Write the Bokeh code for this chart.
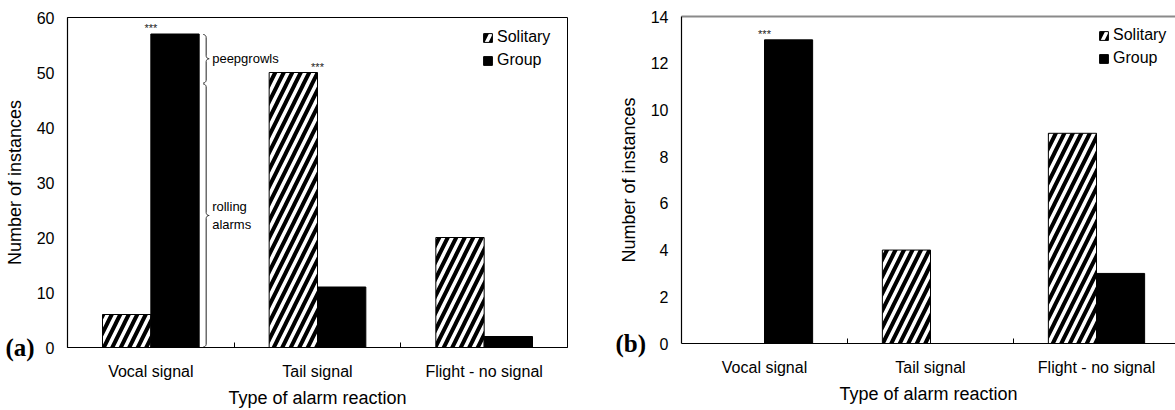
import numpy as np
from bokeh.plotting import figure
from bokeh.layouts import row
from bokeh.models import FixedTicker, LinearAxis, Legend, LegendItem, Range1d, ColumnDataSource
from bokeh.core.properties import value
from bokeh.embed import file_html
from bokeh.resources import INLINE

# ---- data ----
categories = ["Vocal signal", "Tail signal", "Flight - no signal"]

solitary_a = [6, 50, 20]
group_a = [57, 11, 2]
signif_a = ["***", "***", ""]
y_ticks_a = [0, 10, 20, 30, 40, 50, 60]

solitary_b = [0, 4, 9]
group_b = [13, 0, 3]
signif_b = ["***", "", ""]
y_ticks_b = [0, 2, 4, 6, 8, 10, 12, 14]

# composition of the group vocal signals in panel (a)
vocal_call_types = ["peepgrowls", "rolling\nalarms"]
vocal_call_counts = [9, 48]

SANS = "Liberation Sans"
BAR_W = 0.29
H = 410


def make_panel(letter, sol, grp, signif, yticks, width, box, legend_xy, letter_x):
    """box = (left, right, top, bottom) pixel edges of the data area on the canvas"""
    left, right, top, bottom = box
    ncat = len(categories)
    ymax = yticks[-1]
    ppx = 166.0 if right is None else (right - left) / ncat
    ppy = (bottom - top) / ymax
    x_hi = (width - left) / ppx
    p = figure(width=width, height=H, output_backend="svg", toolbar_location=None,
               x_range=Range1d(-left / ppx, x_hi),
               y_range=Range1d(-(H - bottom) / ppy, ymax + top / ppy),
               min_border=0, x_axis_location=None, y_axis_location=None)
    p.grid.visible = False
    p.outline_line_color = None

    centers = np.arange(ncat) + 0.5
    src = ColumnDataSource(dict(xs=centers - BAR_W / 2, xg=centers + BAR_W / 2,
                                sol=sol, grp=grp))
    r_sol = p.vbar(x="xs", top="sol", width=BAR_W, source=src, fill_color="white",
                   line_color="black", line_width=1, hatch_pattern="/",
                   hatch_color="black", hatch_scale=17, hatch_weight=4)
    r_grp = p.vbar(x="xg", top="grp", width=BAR_W, source=src, fill_color="black",
                   line_color="black", line_width=1)

    # significance stars over each category
    star_y = [max(a, b) for a, b in zip(sol, grp)]
    p.text(x=list(centers), y=star_y, text=signif, text_font=value(SANS),
           text_font_size="11px", text_align="center", text_baseline="bottom",
           text_color="#222222")

    # x axis: labels at category centres, small ticks at category borders
    xa = LinearAxis(fixed_location=0, bounds=(0, ncat))
    xa.ticker = FixedTicker(ticks=list(centers), minor_ticks=list(range(1, ncat)))
    xa.major_label_overrides = {float(c): name for c, name in zip(centers, categories)}
    xa.major_tick_in = 0
    xa.major_tick_out = 0
    xa.minor_tick_in = 5
    xa.minor_tick_out = 0
    xa.axis_label = "Type of alarm reaction"
    xa.major_label_standoff = 15
    xa.axis_label_standoff = 5

    ya = LinearAxis(fixed_location=0, bounds=(0, ymax))
    ya.ticker = FixedTicker(ticks=yticks)
    ya.major_tick_in = 0
    ya.major_tick_out = 0
    ya.minor_tick_in = 0
    ya.minor_tick_out = 0
    ya.axis_label = "Number of instances"
    ya.major_label_standoff = 13
    ya.axis_label_standoff = 9

    for ax in (xa, ya):
        ax.axis_line_color = "black"
        ax.axis_line_width = 1.2
        ax.major_label_text_font = SANS
        ax.major_label_text_font_size = "16px"
        ax.major_label_text_color = "black"
        ax.axis_label_text_font = SANS
        ax.axis_label_text_font_size = "18px"
        ax.axis_label_text_font_style = "normal"
        ax.axis_label_text_color = "black"
    p.add_layout(xa, "below")
    p.add_layout(ya, "left")

    # panel letter, level with the zero tick
    p.text(x=[(letter_x - left) / ppx], y=[0], text=[letter],
           text_font=value("Liberation Serif"), text_font_style="bold",
           text_font_size="25px", text_baseline="middle", text_align="left",
           text_color="black")

    # legend in the top right corner
    legend = Legend(items=[LegendItem(label="Solitary", renderers=[r_sol]),
                           LegendItem(label="Group", renderers=[r_grp])],
                    location=legend_xy)
    legend.border_line_color = None
    legend.background_fill_alpha = 0
    legend.padding = 0
    legend.margin = 0
    legend.spacing = 3
    legend.glyph_width = 11
    legend.glyph_height = 11
    legend.label_height = 20
    legend.label_standoff = 4
    legend.label_text_font = SANS
    legend.label_text_font_size = "16px"
    legend.label_text_color = "black"
    p.add_layout(legend)
    return p, ppx, ppy


# ---- panel (a) ----
pa, ppx_a, ppy_a = make_panel("(a)", solitary_a, group_a, signif_a, y_ticks_a,
                              590, (67, 567, 17, 347), (482, H - 70), 5)
# closed box round the data area
pa.quad(left=[0], right=[len(categories)], bottom=[0], top=[y_ticks_a[-1]],
        fill_color=None, line_color="black", line_width=1)

# curly braces splitting the group vocal bar into its call types
r = 3.0
x0 = 0.5 + BAR_W + 4 / ppx_a
tops = np.cumsum(vocal_call_counts[::-1])[::-1]
bots = tops - np.array(vocal_call_counts)
brace_xs, brace_ys, lab_x, lab_y = [], [], [], []
for top, bot in zip(tops, bots):
    h = (top - bot) * ppy_a - 1.0
    m = h / 2
    th1 = np.linspace(np.pi / 2, 0, 12)
    th2 = np.linspace(np.pi, 1.5 * np.pi, 12)
    th3 = np.linspace(0.5 * np.pi, np.pi, 12)
    th4 = np.linspace(0, -np.pi / 2, 12)
    u = np.concatenate([r * np.cos(th1), 2 * r + r * np.cos(th2),
                        2 * r + r * np.cos(th3), r * np.cos(th4)])
    v = np.concatenate([h - r + r * np.sin(th1), m + r + r * np.sin(th2),
                        m - r + r * np.sin(th3), r + r * np.sin(th4)])
    brace_xs.append(list(x0 + u / ppx_a))
    brace_ys.append(list(bot + 0.5 / ppy_a + v / ppy_a))
    lab_x.append(x0 + (2 * r + 3) / ppx_a)
    lab_y.append(bot + (m + 0.5) / ppy_a)
pa.multi_line(xs=brace_xs, ys=brace_ys, line_color="#222222", line_width=1)
pa.text(x=lab_x, y=lab_y, text=vocal_call_types, text_font=value(SANS),
        text_font_size="13px", text_align="left", text_baseline="middle",
        text_line_height=1.25, text_color="black")

# ---- panel (b) ----
pb, ppx_b, ppy_b = make_panel("(b)", solitary_b, group_b, signif_b, y_ticks_b,
                              585, (91, None, 16, 343), (508, H - 68), 25)
# grey top edge of the data area
pb.line(x=[0, pb.x_range.end], y=[y_ticks_b[-1], y_ticks_b[-1]],
        line_color="#8a8a8a", line_width=2)

layout = row(pa, pb)
open("out.html", "w").write(file_html(layout, INLINE))
